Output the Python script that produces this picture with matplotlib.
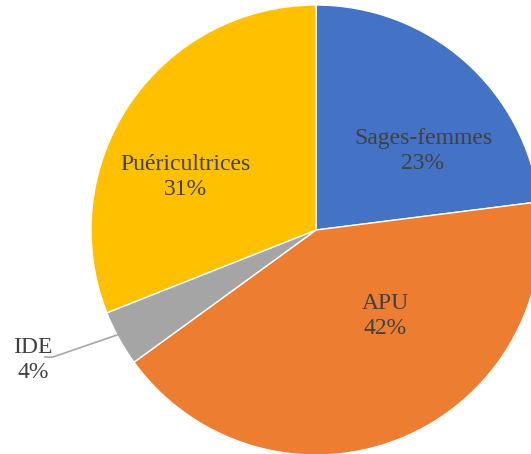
import matplotlib.pyplot as plt

plt.rcParams['font.family'] = 'serif'
plt.rcParams['font.serif'] = ['Liberation Serif', 'Times New Roman', 'DejaVu Serif']

# Data
categories = ['Sages-femmes', 'APU', 'IDE', 'Puéricultrices']
shares = [23, 42, 4, 31]
colors = ['#4472C4', '#ED7D31', '#A5A5A5', '#FFC000']

# label positions (pixels from top-left)
label_xy = [(423, 151), (385, 316), (33, 360), (185, 177)]

fig = plt.figure(figsize=(5.31, 4.54), dpi=100)
ax = fig.add_axes([0, 0, 1, 1])

center = (316, 454 - 230)
radius = 225
ax.pie(shares, colors=colors, startangle=90, counterclock=False,
       center=center, radius=radius, frame=True,
       wedgeprops=dict(edgecolor='white', linewidth=1))
ax.set_xlim(0, 531)
ax.set_ylim(0, 454)
ax.set_aspect('equal')
ax.axis('off')

for name, val, (x, y) in zip(categories, shares, label_xy):
    ax.text(x, 454 - y, f'{name}\n{val}%', ha='center', va='center',
            fontsize=17, color='#404040', linespacing=1.22)

# leader line for IDE
ax.plot([117, 53, 45], [454 - 335, 454 - 357, 454 - 357], color='#A6A6A6', lw=1.2)

fig.savefig('out.png', dpi=100)
